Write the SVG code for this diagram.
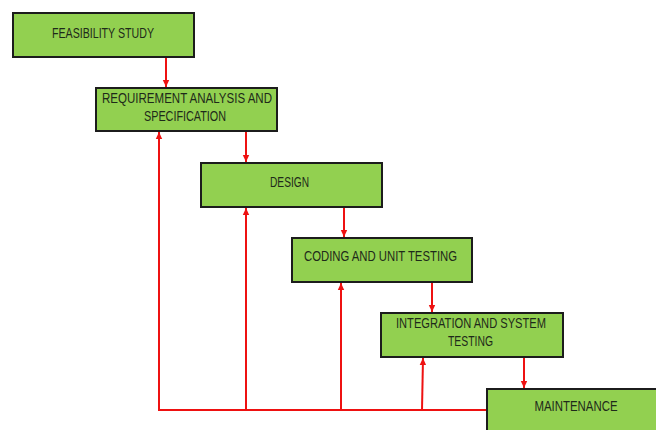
<svg xmlns="http://www.w3.org/2000/svg" width="656" height="430" viewBox="0 0 656 430">
<style>
.box{fill:#92d050;stroke:#1c1c1c;stroke-width:2}
.t{font-family:"Liberation Sans",Arial,sans-serif;font-size:14px;fill:#1e2a1a;text-anchor:middle}
.c{fill:none;stroke:#ee1111;stroke-width:2}
</style>
<defs>
<marker id="ah" markerUnits="userSpaceOnUse" markerWidth="8" markerHeight="8" refX="7" refY="4" orient="auto">
<path d="M0,0.8 L7,4 L0,7.2 Z" fill="#ee1111"/>
</marker>
</defs>
<rect width="656" height="430" fill="#ffffff"/>
<g id="connectors">
<line class="c" x1="166" y1="57" x2="166" y2="87" marker-end="url(#ah)"/>
<line class="c" x1="246" y1="131" x2="246" y2="162" marker-end="url(#ah)"/>
<line class="c" x1="344" y1="207" x2="344" y2="237" marker-end="url(#ah)"/>
<line class="c" x1="432" y1="282" x2="432" y2="312" marker-end="url(#ah)"/>
<line class="c" x1="524" y1="357" x2="524" y2="388" marker-end="url(#ah)"/>
<polyline class="c" points="487,410 159,410"/>
<line class="c" x1="159" y1="411" x2="159" y2="132" marker-end="url(#ah)"/>
<line class="c" x1="246" y1="410" x2="246" y2="208" marker-end="url(#ah)"/>
<line class="c" x1="341" y1="410" x2="341" y2="283" marker-end="url(#ah)"/>
<line class="c" x1="422" y1="410" x2="423" y2="358" marker-end="url(#ah)"/>
</g>
<g id="feasibility">
<rect class="box" x="13" y="13" width="181" height="44"/>
<text class="t" x="103" y="38" textLength="102" lengthAdjust="spacingAndGlyphs">FEASIBILITY STUDY</text>
</g>
<g id="requirement">
<rect class="box" x="96" y="88" width="181" height="43"/>
<text class="t" x="187" y="103" textLength="170" lengthAdjust="spacingAndGlyphs">REQUIREMENT ANALYSIS AND</text>
<text class="t" x="185" y="121" textLength="82" lengthAdjust="spacingAndGlyphs">SPECIFICATION</text>
</g>
<g id="design">
<rect class="box" x="201" y="163" width="181" height="44"/>
<text class="t" x="289.5" y="187" textLength="39" lengthAdjust="spacingAndGlyphs">DESIGN</text>
</g>
<g id="coding">
<rect class="box" x="292" y="238" width="180" height="44"/>
<text class="t" x="380.5" y="261" textLength="153" lengthAdjust="spacingAndGlyphs">CODING AND UNIT TESTING</text>
</g>
<g id="integration">
<rect class="box" x="381" y="313" width="182" height="44"/>
<text class="t" x="471" y="328" textLength="150" lengthAdjust="spacingAndGlyphs">INTEGRATION AND SYSTEM</text>
<text class="t" x="470.5" y="346" textLength="45" lengthAdjust="spacingAndGlyphs">TESTING</text>
</g>
<g id="maintenance">
<rect class="box" x="487" y="389" width="180" height="50"/>
<text class="t" x="576" y="411" textLength="83" lengthAdjust="spacingAndGlyphs">MAINTENANCE</text>
</g>
</svg>
